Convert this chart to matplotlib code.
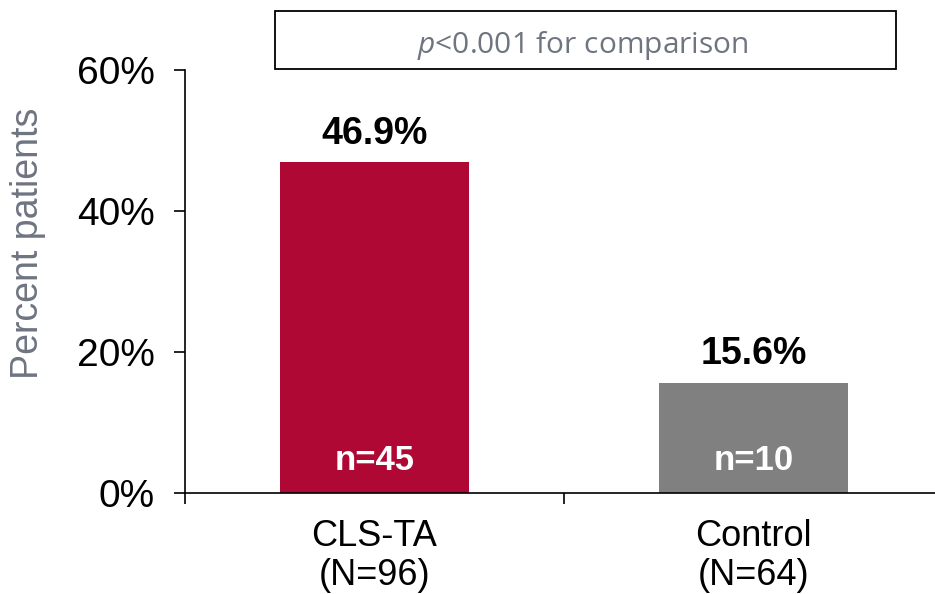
import matplotlib.pyplot as plt
from matplotlib.patches import Rectangle
from matplotlib.ticker import FuncFormatter

plt.rcParams['font.family'] = ['Liberation Sans', 'DejaVu Sans']
plt.rcParams['mathtext.fontset'] = 'custom'
plt.rcParams['mathtext.it'] = 'Open Sans:italic'
plt.rcParams['mathtext.rm'] = 'Open Sans'

# Data
groups = ['CLS-TA\n(N=96)', 'Control\n(N=64)']
percent = [46.9, 15.6]
counts = [45, 10]
colors = ['#AF0834', '#808080']
yticks = [0, 20, 40, 60]
note = r'$\it{p}$<0.001 for comparison'

fig = plt.figure(figsize=(9.35, 5.94), dpi=100)
# axes runs past the right edge of the figure
ax = fig.add_axes([185/935, 101/594, 758/935, 423/594])

x = list(range(len(groups)))
ax.bar(x, percent, width=0.5, color=colors, zorder=2)
ax.set_xlim(-0.5, 1.5)
ax.set_ylim(0, 60)

for xi, v, n in zip(x, percent, counts):
    ax.annotate(f'{v}%', (xi, v), xytext=(0, 13.5), textcoords='offset points',
                ha='center', va='baseline', fontsize=27, fontweight='bold')
    ax.annotate(f'n={n}', (xi, 0), xytext=(0, 16.5), textcoords='offset points',
                ha='center', va='baseline', fontsize=25, fontweight='bold', color='white')

# ticks sit between categories, labels under bars
ax.set_xticks([-0.5, 0.5, 1.5])
ax.set_xticklabels([])
ax.set_xticks(x, minor=True)
ax.set_xticklabels(groups, minor=True, fontsize=26, linespacing=1.12)
ax.tick_params(axis='x', which='minor', length=0, pad=19)
ax.tick_params(axis='x', which='major', length=8, width=1.2, direction='out')
ax.set_yticks(yticks)
ax.yaxis.set_major_formatter(FuncFormatter(lambda v, p: f'{v:.0f}%'))
ax.tick_params(axis='y', length=8, width=1.2, labelsize=28, pad=14)

for s in ['top', 'right']:
    ax.spines[s].set_visible(False)
for s in ['left', 'bottom']:
    ax.spines[s].set_linewidth(1.2)

fig.text(28/935, (594-243)/594, 'Percent patients', rotation=90, ha='center', va='center',
         fontsize=27, color='#6E7581')

# p-value box above the plot
fig.patches.append(Rectangle((275/935, 525/594), 621/935, 58/594, transform=fig.transFigure,
                             fill=False, edgecolor='black', linewidth=1.3))
fig.text(583/935, (594-53)/594, note, ha='center', va='baseline', fontsize=21.5,
         color='#6E7581', family='Open Sans')

fig.savefig('out.png', dpi=100)
